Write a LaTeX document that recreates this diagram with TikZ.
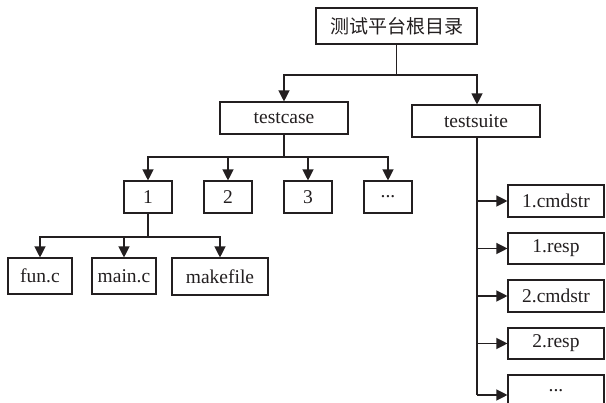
\documentclass[tikz,border=0pt]{standalone}
\usepackage{fontspec}
\setmainfont{Liberation Serif}
\newfontfamily\cjk{Noto Sans CJK SC}
\usetikzlibrary{arrows.meta}
\definecolor{ink}{HTML}{231F20}
\begin{document}
\begin{tikzpicture}[x=1pt,y=-1pt,
  box/.style={draw=ink,line width=1.1pt,inner sep=0pt,text=ink,font=\fontsize{19.5}{22}\selectfont},
  con/.style={draw=ink,line width=1.2pt},
  arr/.style={con,-{Triangle[length=11pt,width=11pt]}}]
\useasboundingbox (0,0) rectangle (606,403);
\clip (0,0) rectangle (606,403);
\fill[white] (0,0) rectangle (606,403);
% nodes
\node[box,minimum width=161pt,minimum height=36pt] (root) at (396.5,26) {\cjk\fontsize{19}{22}\selectfont 测试平台根目录};
\node[box,minimum width=128pt,minimum height=32pt] (tc) at (284,118) {testcase};
\node[box,minimum width=128pt,minimum height=32pt] (ts) at (476,121) {testsuite};
\node[box,minimum width=48pt,minimum height=32pt] (c1) at (148,197) {1};
\node[box,minimum width=48pt,minimum height=32pt] (c2) at (228,197) {2};
\node[box,minimum width=48pt,minimum height=32pt] (c3) at (308,197) {3};
\node[box,minimum width=48pt,minimum height=32pt] (c4) at (388,197) {...};
\node[box,minimum width=64pt,minimum height=36pt] (fun) at (40,276) {fun.c};
\node[box,minimum width=64pt,minimum height=36pt] (main) at (124,276) {main.c};
\node[box,minimum width=96pt,minimum height=37pt] (make) at (220,276.5) {makefile};
\node[box,minimum width=96pt,minimum height=32pt] (s1) at (556,201) {1.cmdstr};
\node[box,minimum width=96pt,minimum height=31pt] (s2) at (556,248.5) {1.resp};
\node[box,minimum width=96pt,minimum height=32pt] (s3) at (556,296) {2.cmdstr};
\node[box,minimum width=96pt,minimum height=31pt] (s4) at (556,343.5) {2.resp};
\node[box,minimum width=96pt,minimum height=32pt] (s5) at (556,391) {...};
% junctions
\coordinate (j1) at (396.5,75);
\coordinate (j2) at (284,157);
\coordinate (j3) at (148,237);
\coordinate (tsx) at (477,137);
\coordinate (j4) at (477,395);
% connectors
\draw[con] (root.south) -- (j1);
\draw[arr] (j1) -| (tc.north);
\draw[arr] (j1) -| (ts.north -| tsx);
\draw[con] (tc.south) -- (j2);
\draw[arr] (j2) -| (c1.north);
\draw[arr] (j2) -| (c2.north);
\draw[arr] (j2) -| (c3.north);
\draw[arr] (j2) -| (c4.north);
\draw[con] (c1.south) -- (j3);
\draw[arr] (j3) -| (fun.north);
\draw[arr] (j3) -| (main.north);
\draw[arr] (j3) -| (make.north);
\draw[con] (tsx) -- (j4);
\draw[arr] (tsx |- s1.west) -- (s1.west);
\draw[arr] (tsx |- s2.west) -- (s2.west);
\draw[arr] (tsx |- s3.west) -- (s3.west);
\draw[arr] (tsx |- s4.west) -- (s4.west);
\draw[arr] (j4) -- (s5.west |- j4);
\end{tikzpicture}
\end{document}
